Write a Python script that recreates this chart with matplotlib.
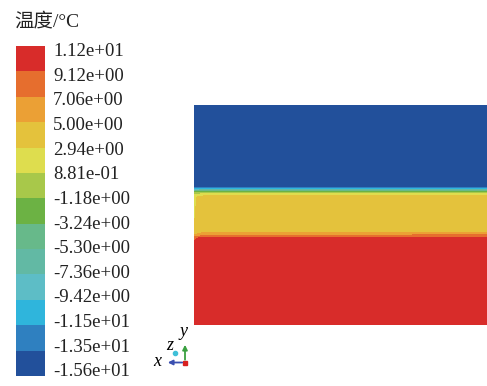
import numpy as np
import matplotlib
matplotlib.use('Agg')
import matplotlib.pyplot as plt
from matplotlib.colors import ListedColormap, BoundaryNorm

# legend levels (bottom -> top) and band colours
levels = [-15.6, -13.5, -11.5, -9.42, -7.36, -5.30, -3.24, -1.18, 0.881, 2.94, 5.00, 7.06, 9.12, 11.2]
level_labels = ['-1.56e+01', '-1.35e+01', '-1.15e+01', '-9.42e+00', '-7.36e+00', '-5.30e+00',
                '-3.24e+00', '-1.18e+00', '8.81e-01', '2.94e+00', '5.00e+00', '7.06e+00',
                '9.12e+00', '1.12e+01']
band_colors = ['#22509b', '#2f80c0', '#2fb5dc', '#5dbdc6', '#62b9a4', '#67b98a', '#6cb244',
               '#a8c84a', '#dedd4e', '#e4c23c', '#eba035', '#e66e2e', '#d82c2a']

x_nodes = [0.0, 0.015, 0.04, 1.0]
y_nodes = [0.0, 0.37, 0.395, 0.41, 0.425, 0.58, 0.593, 0.603, 0.612, 0.62, 0.63, 1.0]
temps = [
    [10.5, 10.5, 10.5, 10.5],
    [10.3, 10.4, 10.5, 10.5],
    [8.0, 9.3, 9.8, 10.0],
    [4.8, 5.5, 6.5, 7.0],
    [3.0, 4.2, 4.5, 4.5],
    [2.0, 3.5, 4.2, 4.3],
    [0.5, 1.5, 2.0, 2.2],
    [-2.0, -1.5, -1.2, -1.5],
    [-7.0, -6.5, -6.0, -6.0],
    [-11.0, -11.0, -10.5, -10.5],
    [-15.0, -15.0, -14.8, -14.8],
    [-15.2, -15.2, -15.2, -15.2],
]

W, H = 487, 386
fig = plt.figure(figsize=(W / 100, H / 100), dpi=100)
serif = ['Liberation Serif', 'Noto Sans CJK SC']

cmap = ListedColormap(band_colors)
norm = BoundaryNorm(levels, cmap.N)

ax = fig.add_axes([194 / W, (H - 325) / H, 293 / W, 220 / H])
X, Y = np.meshgrid(x_nodes, y_nodes)
cf = ax.contourf(X, Y, np.array(temps), levels=levels, cmap=cmap, norm=norm)
ax.set_xlim(0, 1)
ax.set_ylim(0, 1)
ax.axis('off')

cax = fig.add_axes([16 / W, (H - 376) / H, 29 / W, 330 / H])
cb = fig.colorbar(cf, cax=cax, spacing='uniform', ticks=[])
cb.outline.set_visible(False)
cb.minorticks_off()
cax.tick_params(which='both', length=0, labelsize=0)

# labels of the legend
label_y = np.linspace(371.7, 51.7, len(level_labels))
for lab, py in zip(level_labels, label_y):
    fig.text(53 / W, 1 - py / H, lab, ha='left', va='center', fontsize=13.5,
             family=serif, color='#222222')

fig.text(14 / W, 1 - 21 / H, '温度/°C', ha='left', va='center', fontsize=14,
         family=serif, color='#222222')

# axis triad
ov = fig.add_axes([0, 0, 1, 1])
ov.set_xlim(0, W)
ov.set_ylim(H, 0)
ov.axis('off')
ox, oy = 185, 362.5
ov.annotate('', xy=(165, oy), xytext=(ox, oy),
            arrowprops=dict(arrowstyle='-|>', color='#3a4fb0', lw=1.3, mutation_scale=7))
ov.annotate('', xy=(ox, 342), xytext=(ox, oy),
            arrowprops=dict(arrowstyle='-|>', color='#3aa040', lw=1.3, mutation_scale=7))
ov.plot([175], [353], 'o', color='#40c0d8', ms=3)
ov.plot([ox], [oy], 's', color='#d82020', ms=3)
ov.text(157, 362, 'x', ha='center', va='center', fontsize=13, style='italic', family=serif)
ov.text(183.5, 331, 'y', ha='center', va='center', fontsize=13, style='italic', family=serif)
ov.text(169.5, 346, 'z', ha='center', va='center', fontsize=13, style='italic', family=serif)

fig.savefig('out.png', dpi=100)
